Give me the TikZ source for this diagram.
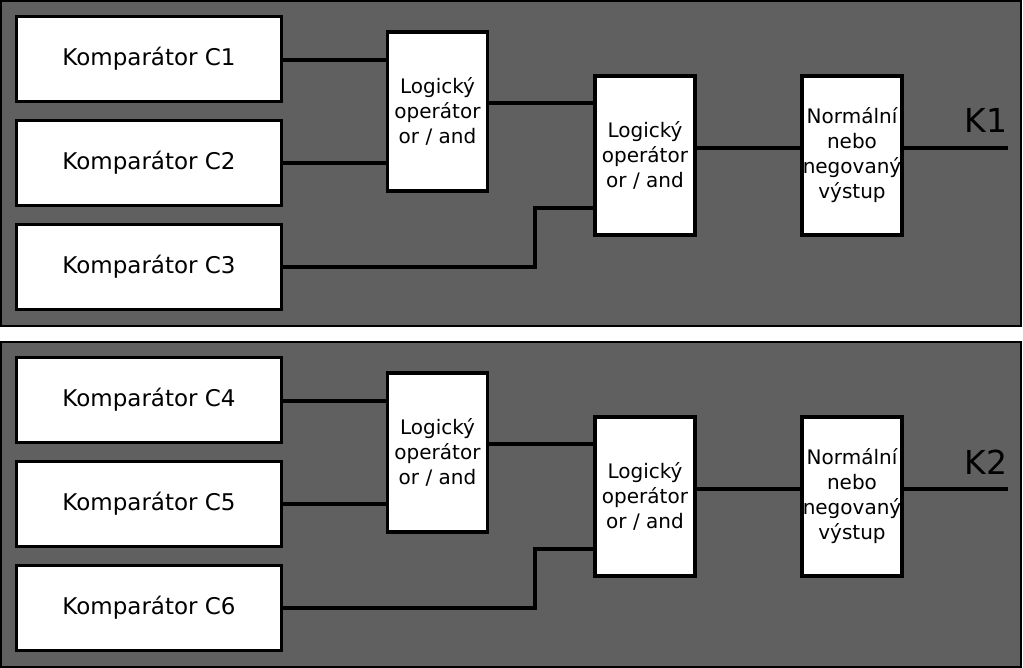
\documentclass[tikz,border=0pt]{standalone}
\usepackage{fontspec}
\setmainfont{DejaVu Sans}
\definecolor{panelgray}{RGB}{96,96,96}
\tikzset{
  panel/.style={draw=black, line width=2pt, fill=panelgray},
  compbox/.style={draw=black, line width=3.5pt, fill=white, minimum width=265pt, minimum height=85pt, inner sep=0pt, font=\fontsize{23}{28}\selectfont},
  opbox/.style={draw=black, line width=3.5pt, fill=white, minimum width=100pt, minimum height=159pt, inner sep=0pt, align=center, font=\fontsize{20}{25}\selectfont},
  wire/.style={draw=black, line width=3.5pt},
  klabel/.style={anchor=base, inner sep=0pt, font=\fontsize{33}{36}\selectfont}
}
\begin{document}
\begin{tikzpicture}[x=1pt,y=-1pt]
\useasboundingbox (0,0) rectangle (1023,668);
\foreach \off/\a/\b/\c/\k in {0/1/2/3/K1, 341/4/5/6/K2}{
\begin{scope}[shift={(0,\off)}]
  \path[panel] (1,1) rectangle (1021,326);
  \node[compbox] (c1) at (149,59) {Komparátor C\a};
  \node[compbox] (c2) at (149,163) {Komparátor C\b};
  \node[compbox] (c3) at (149,267) {Komparátor C\c};
  \node[opbox] (o1) at (437.5,111.5) {Logický\\operátor\\or / and};
  \node[opbox] (o2) at (645,155.5) {Logický\\operátor\\or / and};
  \node[opbox] (out) at (852,155.5) {Normální\\nebo\\negovaný\\výstup};
  \coordinate (ya) at (0,60);
  \coordinate (yb) at (0,103);
  \coordinate (yc) at (0,148);
  \coordinate (bend) at (535,208);
  \coordinate (kend) at (1008,148);
  \draw[wire] (c1.east |- ya) -- (o1.west |- ya);
  \draw[wire] (c2.east) -- (c2.east -| o1.west);
  \draw[wire] (o1.east |- yb) -- (o2.west |- yb);
  \draw[wire] (c3.east) -| (bend) -- (bend -| o2.west);
  \draw[wire] (o2.east |- yc) -- (out.west |- yc);
  \draw[wire] (out.east |- yc) -- (kend);
  \node[klabel] (k) at (986,133) {\k};
\end{scope}
}
\end{tikzpicture}
\end{document}
